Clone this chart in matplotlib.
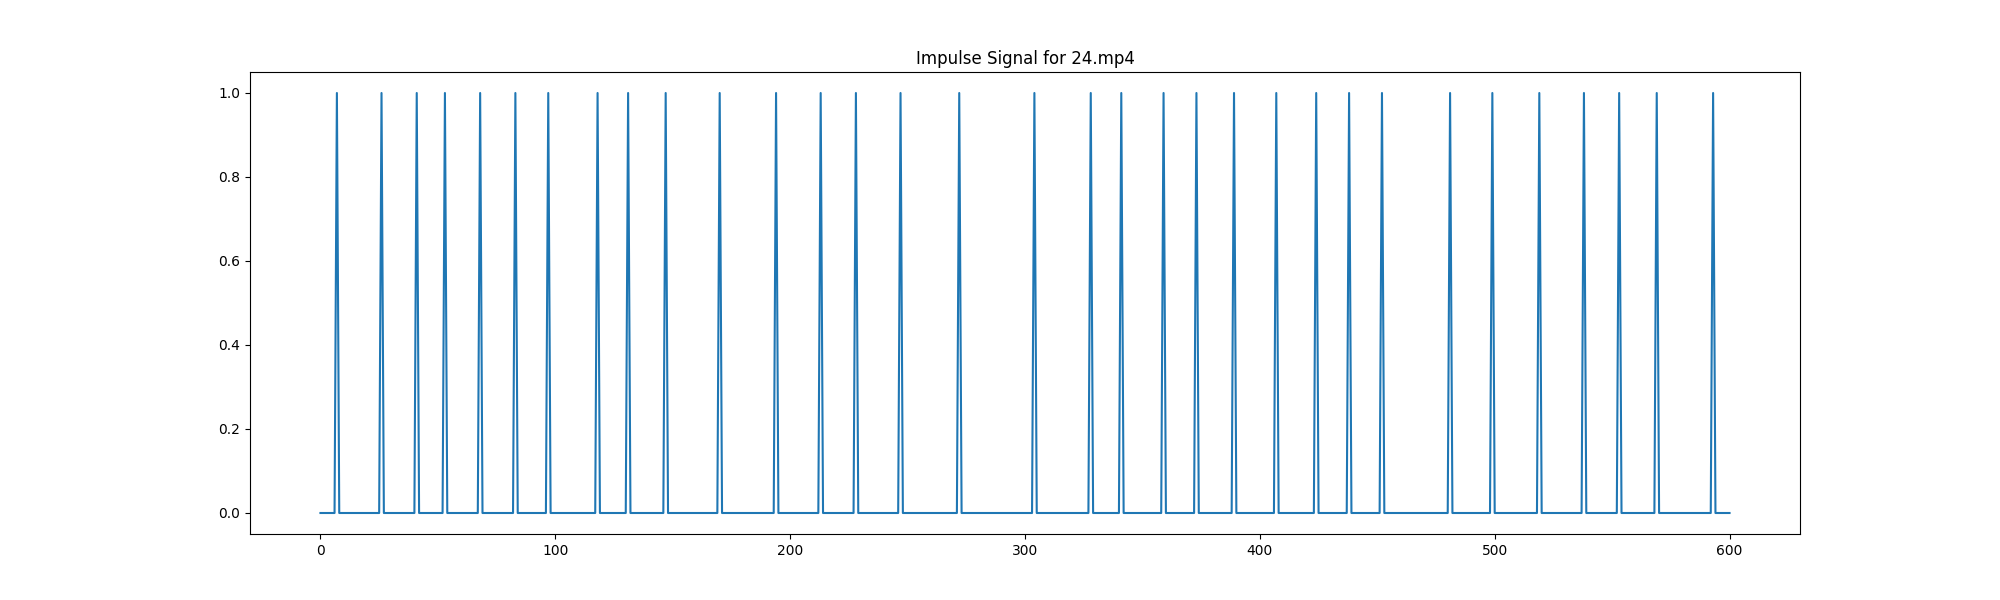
import numpy as np
import matplotlib
matplotlib.use("Agg")
import matplotlib.pyplot as plt

# frame indices where an impulse fires
n_frames = 601
impulse_frames = [7, 26, 41, 53, 68, 83, 97, 118, 131, 147, 170, 194, 213, 228,
                  247, 272, 304, 328, 341, 359, 373, 389, 407, 424, 438, 452,
                  481, 499, 519, 538, 553, 569, 593]

signal = np.zeros(n_frames)
signal[impulse_frames] = 1

plt.figure(figsize=(20, 6), dpi=100)
plt.plot(signal)
plt.title("Impulse Signal for 24.mp4")
plt.savefig("out.png")
